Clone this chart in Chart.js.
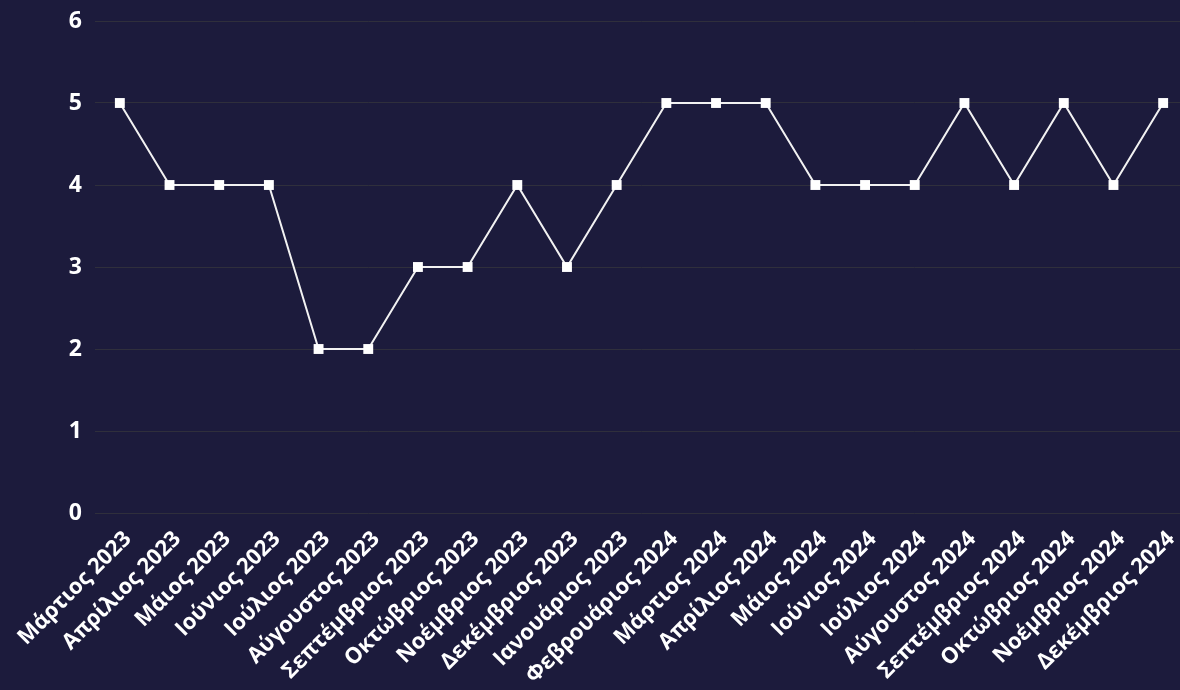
<!DOCTYPE html>
<html>
<head>
<meta charset="UTF-8">
<script src="https://cdn.jsdelivr.net/npm/chart.js@4"></script>
<style>
	html, body { margin: 0; padding: 0; background: #1c1b3c; overflow: hidden; width: 1180px; height: 690px; }
	#graph { display: block; }
</style>
</head>
<body>
<canvas id="graph" width="1188" height="690"></canvas>
<script>
// x축 : 월
let months = [
	"Μάρτιος 2023", "Απρίλιος 2023", "Μάιος 2023", "Ιούνιος 2023", "Ιούλιος 2023",
	"Αύγουστος 2023", "Σεπτέμβριος 2023", "Οκτώβριος 2023", "Νοέμβριος 2023", "Δεκέμβριος 2023",
	"Ιανουάριος 2023", "Φεβρουάριος 2024", "Μάρτιος 2024", "Απρίλιος 2024", "Μάιος 2024",
	"Ιούνιος 2024", "Ιούλιος 2024", "Αύγουστος 2024", "Σεπτέμβριος 2024", "Οκτώβριος 2024",
	"Νοέμβριος 2024", "Δεκέμβριος 2024"
];

// y축 : 값
let values = [5, 4, 4, 4, 2, 2, 3, 3, 4, 3, 4, 5, 5, 5, 4, 4, 4, 5, 4, 5, 4, 5];

let yMin = 0;
let yMax = 6;

document.addEventListener("DOMContentLoaded", function() {
	var ctx = document.getElementById('graph').getContext('2d');
	var lineChart = new Chart(ctx, {
		type: 'line',
		data: {
			labels: months,
			datasets: [{
				data: values,
				borderColor: '#f2f2f2',
				backgroundColor: '#ffffff',
				borderWidth: 2,
				pointStyle: 'rect',
				pointRadius: 7,
				pointBorderWidth: 0,
				tension: 0,
				fill: false
			}]
		},
		options: {
			responsive: false,
			animation: false,
			layout: {
				autoPadding: false,
				padding: { top: 21, right: 0, left: 0, bottom: 0 }
			},
			scales: {
				x: {
					offset: true,
					grid: { display: false },
					border: { display: false },
					afterFit: function(scale) {
						scale.height = 177;
						scale.paddingLeft = 0;
						scale.paddingRight = 0;
					},
					ticks: {
						color: '#ffffff',
						maxRotation: 45,
						minRotation: 45,
						autoSkip: false,
						padding: 5,
						labelOffset: 8,
						font: { family: "'Open Sans', sans-serif", size: 22, weight: 'bold' }
					}
				},
				y: {
					min: yMin,
					max: yMax,
					grid: {
						color: 'rgba(50, 50, 60, 0.9)',
						drawTicks: false
					},
					border: { display: false },
					afterFit: function(scale) {
						scale.width = 95;
						scale.paddingTop = 0;
						scale.paddingBottom = 0;
					},
					ticks: {
						stepSize: 1,
						color: '#ffffff',
						padding: 13,
						font: { family: "'Open Sans', sans-serif", size: 23, weight: 'bold' }
					}
				}
			},
			plugins: {
				legend: { display: false },
				tooltip: { enabled: false }
			}
		}
	});
});
</script>
</body>
</html>
